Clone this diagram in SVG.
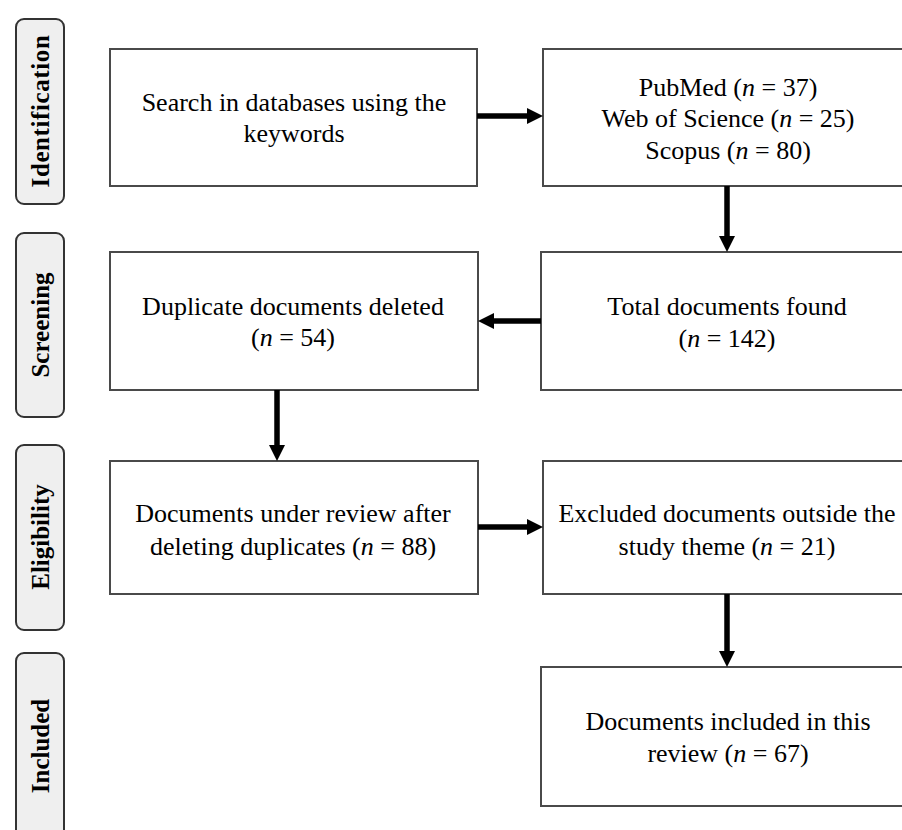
<svg xmlns="http://www.w3.org/2000/svg" width="902" height="830" viewBox="0 0 902 830">
<defs>
<style>
.bg{fill:#ffffff}
.phase{fill:#efefef;stroke:#333333;stroke-width:2}
.phase-t{font-family:"Liberation Serif","Times New Roman",serif;font-size:25px;font-weight:bold;fill:#000;text-anchor:middle}
.box{fill:#ffffff;stroke:#4a4a4a;stroke-width:2}
.t{font-family:"Liberation Serif","Times New Roman",serif;font-size:26px;fill:#000;text-anchor:middle}
.i{font-style:italic}
.conn{stroke:#000;stroke-width:5.5;fill:none;marker-end:url(#ah)}
</style>
<marker id="ah" markerUnits="userSpaceOnUse" viewBox="0 0 16 16" markerWidth="16" markerHeight="16" refX="0" refY="8" orient="auto">
<path d="M0,0 L16,8 L0,16 z" fill="#000"/>
</marker>
</defs>
<rect class="bg" x="0" y="0" width="902" height="830"/>

<g id="phase-identification">
<rect class="phase" x="16" y="19" width="48" height="185" rx="8"/>
<text class="phase-t" transform="translate(49,111) rotate(-90)" letter-spacing="0.6">Identification</text>
</g>
<g id="phase-screening">
<rect class="phase" x="16" y="233" width="48" height="184" rx="8"/>
<text class="phase-t" transform="translate(49,325) rotate(-90)">Screening</text>
</g>
<g id="phase-eligibility">
<rect class="phase" x="16" y="445" width="48" height="185" rx="8"/>
<text class="phase-t" transform="translate(49,537) rotate(-90)">Eligibility</text>
</g>
<g id="phase-included">
<rect class="phase" x="16" y="653" width="48" height="200" rx="8"/>
<text class="phase-t" transform="translate(49,746) rotate(-90)">Included</text>
</g>

<g id="search">
<rect class="box" x="110" y="49" width="367" height="137"/>
<text class="t" x="294" y="111">Search in databases using the</text>
<text class="t" x="294" y="142">keywords</text>
</g>
<g id="databases">
<rect class="box" x="543" y="49" width="372" height="137"/>
<text class="t" x="728" y="96">PubMed (<tspan class="i">n</tspan> = 37)</text>
<text class="t" x="728" y="127">Web of Science (<tspan class="i">n</tspan> = 25)</text>
<text class="t" x="728" y="159">Scopus (<tspan class="i">n</tspan> = 80)</text>
</g>
<g id="duplicates">
<rect class="box" x="110" y="252" width="368" height="138"/>
<text class="t" x="293" y="315">Duplicate documents deleted</text>
<text class="t" x="293" y="346">(<tspan class="i">n</tspan> = 54)</text>
</g>
<g id="total">
<rect class="box" x="541" y="252" width="374" height="138"/>
<text class="t" x="727" y="315">Total documents found</text>
<text class="t" x="727" y="347">(<tspan class="i">n</tspan> = 142)</text>
</g>
<g id="review">
<rect class="box" x="110" y="461" width="368" height="133"/>
<text class="t" x="293" y="522">Documents under review after</text>
<text class="t" x="293" y="555">deleting duplicates (<tspan class="i">n</tspan> = 88)</text>
</g>
<g id="excluded">
<rect class="box" x="543" y="461" width="372" height="133"/>
<text class="t" x="727" y="522">Excluded documents outside the</text>
<text class="t" x="727" y="555">study theme (<tspan class="i">n</tspan> = 21)</text>
</g>
<g id="included">
<rect class="box" x="541" y="667" width="374" height="139"/>
<text class="t" x="728" y="730">Documents included in this</text>
<text class="t" x="728" y="762">review (<tspan class="i">n</tspan> = 67)</text>
</g>

<g id="connectors">
<line class="conn" x1="477" y1="116" x2="527" y2="116"/>
<line class="conn" x1="727" y1="186" x2="727" y2="236"/>
<line class="conn" x1="541" y1="321" x2="494" y2="321"/>
<line class="conn" x1="277" y1="390" x2="277" y2="445"/>
<line class="conn" x1="478" y1="527" x2="527" y2="527"/>
<line class="conn" x1="727" y1="594" x2="727" y2="651"/>
</g>
</svg>
